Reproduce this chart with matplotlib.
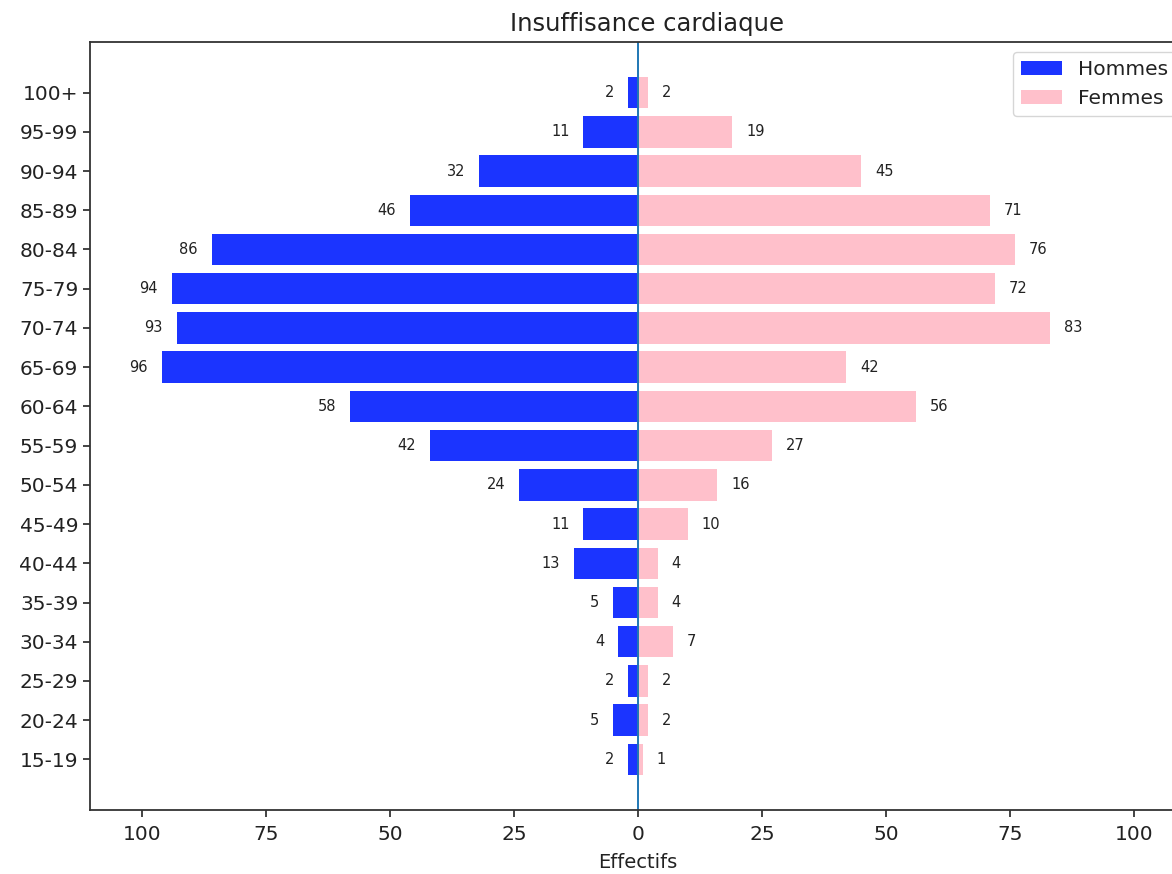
import matplotlib
matplotlib.use("Agg")
import matplotlib.pyplot as plt
import numpy as np

ages = ["15-19", "20-24", "25-29", "30-34", "35-39", "40-44", "45-49", "50-54",
        "55-59", "60-64", "65-69", "70-74", "75-79", "80-84", "85-89", "90-94",
        "95-99", "100+"]
hommes = [2, 5, 2, 4, 5, 13, 11, 24, 42, 58, 96, 93, 94, 86, 46, 32, 11, 2]
femmes = [1, 2, 2, 7, 4, 4, 10, 16, 27, 56, 42, 83, 72, 76, 71, 45, 19, 2]

fig = plt.figure(figsize=(11.72, 8.74), dpi=100)
ax = fig.add_axes([90/1172, 1-810/874, (1186-90)/1172, (810-42)/874])

y = np.arange(len(ages))
bh = ax.barh(y, [-v for v in hommes], color="#1b34ff", label="Hommes")
bf = ax.barh(y, femmes, color="pink", label="Femmes")
ax.bar_label(bh, labels=[str(v) for v in hommes], padding=10, fontsize=10.5, color="#222222")
ax.bar_label(bf, labels=[str(v) for v in femmes], padding=10, fontsize=10.5, color="#222222")
ax.axvline(0, color="C0", lw=1.4)

ax.set_xlim(-110.5, 110.5)
ticks = [-100, -75, -50, -25, 0, 25, 50, 75, 100]
ax.set_xticks(ticks)
ax.set_xticklabels([str(abs(t)) for t in ticks])
ax.set_yticks(y)
ax.set_yticklabels(ages)
ax.tick_params(labelsize=14.5, length=5, width=1.2, colors="#222222")
ax.tick_params(axis="x", pad=6)
for s in ax.spines.values():
    s.set_linewidth(1.3)
    s.set_color("#333333")
ax.set_xlabel("Effectifs", fontsize=14, labelpad=6, color="#222222")
ax.set_title("Insuffisance cardiaque", fontsize=17.5, pad=8, x=0.508, color="#222222")
leg = ax.legend(loc="upper right", fontsize=14.5)
for t in leg.get_texts():
    t.set_color("#222222")

fig.savefig("out.png", dpi=100)
